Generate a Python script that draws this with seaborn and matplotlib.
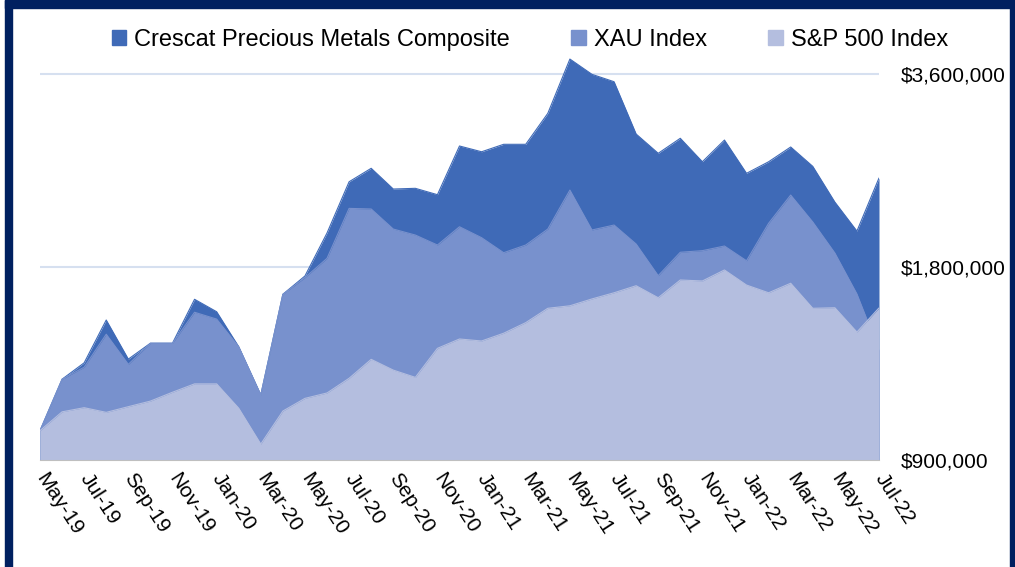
import matplotlib
matplotlib.use("Agg")
import matplotlib.pyplot as plt
import matplotlib.patches as mpatches
import numpy as np
import pandas as pd
import seaborn as sns

# growth of $1,000,000, monthly, May-19 .. Jul-22
months = pd.date_range("2019-05-01", "2022-07-01", freq="MS")
crescat = [1000, 1203, 1276, 1488, 1293, 1369, 1369, 1603, 1533, 1352,
           1137, 1632, 1743, 2034, 2445, 2566, 2382, 2388, 2334, 2780,
           2723, 2797, 2797, 3126, 3799, 3596, 3502, 2902, 2708, 2858,
           2627, 2840, 2520, 2627, 2770, 2584, 2273, 2048, 2478]
xau = [1000, 1203, 1256, 1414, 1269, 1369, 1369, 1530, 1493, 1352,
       1137, 1632, 1733, 1857, 2222, 2217, 2063, 2019, 1948, 2080,
       2000, 1895, 1948, 2063, 2373, 2056, 2093, 1955, 1745, 1898,
       1909, 1941, 1841, 2106, 2331, 2116, 1893, 1634, 1336]
sp500 = [1000, 1070, 1086, 1068, 1090, 1112, 1148, 1183, 1183, 1084,
         953, 1073, 1123, 1145, 1207, 1292, 1243, 1211, 1344, 1390,
         1380, 1419, 1474, 1552, 1566, 1605, 1641, 1683, 1612, 1718,
         1712, 1781, 1687, 1641, 1698, 1552, 1555, 1425, 1554]
series_names = ["Crescat Precious Metals Composite", "XAU Index", "S&P 500 Index"]
y_ticks = [900000, 1800000, 3600000]

colors = ["#3F6AB7", "#7891CD", "#B4BEDF"]
navy = "#002060"

df = pd.DataFrame({
    "month": np.arange(len(months)),
    series_names[0]: np.array(crescat) * 1000,
    series_names[1]: np.array(xau) * 1000,
    series_names[2]: np.array(sp500) * 1000,
})

sns.set_style("white")
plt.rcParams["font.family"] = ["Liberation Sans", "DejaVu Sans"]
plt.rcParams["text.color"] = "black"
plt.rcParams["xtick.color"] = "black"
plt.rcParams["ytick.color"] = "black"

fig = plt.figure(figsize=(10.15, 5.67), dpi=100)
W, H = 1015, 567
ax = fig.add_axes([40 / W, 1 - 460 / H, (879 - 40) / W, (460 - 44.7) / H])

# frame around the picture
fig.patches.append(mpatches.Rectangle((5 / W, 1 - 8 / H), (W - 5) / W, 8 / H,
                                      transform=fig.transFigure, color=navy, zorder=0))
fig.patches.append(mpatches.Rectangle((5 / W, 0), 7 / W, 1, transform=fig.transFigure,
                                      color=navy, zorder=0))
fig.patches.append(mpatches.Rectangle((1010 / W, 0), 5 / W, 1, transform=fig.transFigure,
                                      color=navy, zorder=0))

ax.set_yscale("log", base=2)
ax.set_ylim(900000, 4000000)
ax.set_xlim(0, len(months) - 1)

for name, c in zip(series_names, colors):
    ax.fill_between(df["month"], 900000, df[name], color=c, linewidth=0, zorder=2)
    sns.lineplot(x=df["month"], y=df[name], color=c, linewidth=0.8, ax=ax, zorder=2)

ax.yaxis.tick_right()
ax.set_yticks(y_ticks)
ax.set_yticklabels([f"${v:,.0f}" for v in y_ticks], fontsize=15)
ax.yaxis.set_minor_locator(matplotlib.ticker.NullLocator())
ax.tick_params(axis="y", length=0, pad=16)
for v in y_ticks[1:]:
    ax.axhline(v, color="#D6E0F0", linewidth=1.5, zorder=1)

xt = np.arange(0, len(months), 2)
ax.set_xticks(xt)
ax.set_xticklabels([months[i].strftime("%b-%y") for i in xt], rotation=-57,
                   ha="left", va="center", rotation_mode="anchor", fontsize=15)
ax.tick_params(axis="x", length=5, color="#BFBFBF", width=1, pad=6)
ax.set_xlabel("")
ax.set_ylabel("")

sns.despine(ax=ax, left=True, top=True, right=True)
ax.spines["bottom"].set_color("#BFBFBF")

handles = [mpatches.Patch(color=c, label=n) for n, c in zip(series_names, colors)]
fig.legend(handles=handles, loc="center", bbox_to_anchor=(530 / W, 1 - 40 / H), ncol=3,
           frameon=False, fontsize=17, handlelength=0.6, handleheight=0.6,
           handletextpad=0.35, columnspacing=2.6)

fig.savefig("out.png", dpi=100)
